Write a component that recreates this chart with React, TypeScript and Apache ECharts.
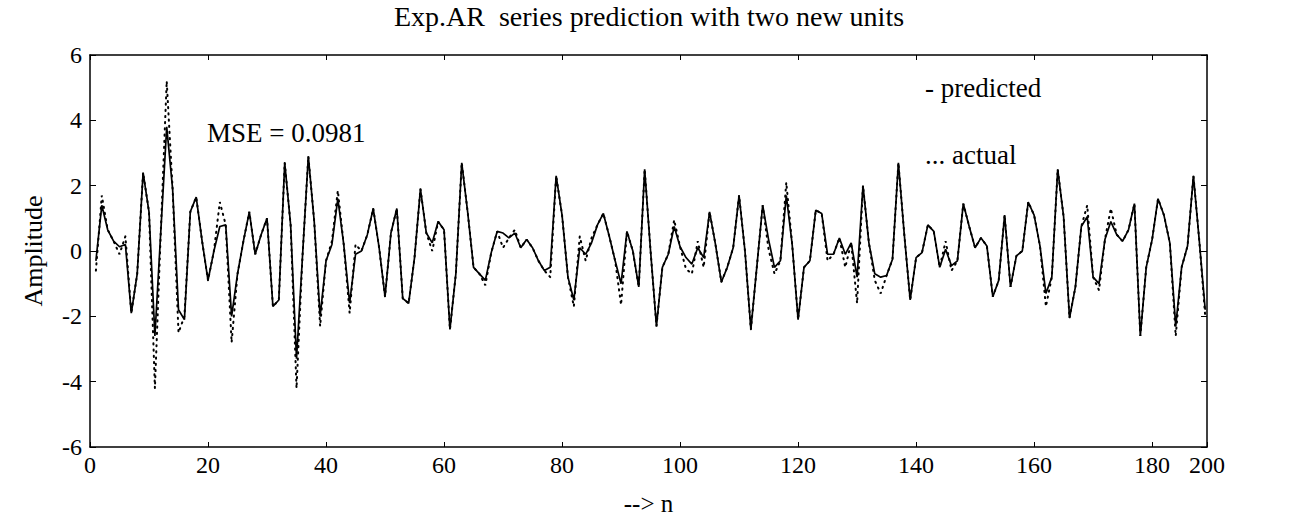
import React, { useEffect, useRef } from "react";
import * as echarts from "echarts";

const titleText = "Exp.AR  series prediction with two new units";
const yAxisName = "Amplitude";
const xAxisName = "--> n";
const mseText = "MSE = 0.0981";
const legendPredicted = "- predicted";
const legendActual = "... actual";

const xTickLabels = ["0", "20", "40", "60", "80", "100", "120", "140", "160", "180", "200"];
const xTickValues = [0, 20, 40, 60, 80, 100, 120, 140, 160, 180, 189.3];
const X_MAX = 189.3;
const yTicks = [-6, -4, -2, 0, 2, 4, 6];

const predicted = [
  -0.3, 1.4, 0.65, 0.3, 0.13, 0.2, -1.9, -0.7, 2.4, 1.2,
  -2.6, 0.6, 3.8, 1.9, -1.8, -2.1, 1.2, 1.65, 0.3, -0.9,
  0.0, 0.75, 0.8, -2.0, -0.7, 0.3, 1.2, -0.1, 0.5, 1.0,
  -1.7, -1.5, 2.7, 0.8, -3.3, -0.2, 2.9, 0.9, -2.0, -0.3,
  0.2, 1.6, 0.2, -1.6, -0.1, 0.0, 0.5, 1.3, 0.1, -1.4,
  0.55, 1.3, -1.45, -1.6, -0.2, 1.9, 0.55, 0.25, 0.9, 0.65,
  -2.4, -0.7, 2.7, 1.2, -0.5, -0.7, -0.9, -0.05, 0.6, 0.55,
  0.4, 0.55, 0.1, 0.35, 0.1, -0.3, -0.6, -0.5, 2.3, 1.1,
  -0.8, -1.5, 0.1, -0.1, 0.25, 0.8, 1.15, 0.45, -0.3, -1.0,
  0.6, 0.0, -1.1, 2.5, 0.0, -2.3, -0.5, -0.1, 0.75, 0.13,
  -0.2, -0.4, 0.1, -0.2, 1.2, 0.2, -0.95, -0.5, 0.1, 1.7,
  0.0, -2.4, -0.5, 1.4, 0.35, -0.5, -0.3, 1.7, 0.2, -2.1,
  -0.5, -0.3, 1.25, 1.15, -0.1, -0.1, 0.4, -0.1, 0.25, -0.8,
  2.0, 0.25, -0.7, -0.8, -0.75, -0.25, 2.7, 0.5, -1.5, -0.2,
  -0.05, 0.8, 0.6, -0.5, 0.05, -0.45, -0.3, 1.45, 0.75, 0.1,
  0.4, 0.15, -1.4, -0.9, 1.1, -1.1, -0.15, 0.0, 1.5, 1.1,
  0.15, -1.3, -0.8, 2.5, 1.05, -2.05, -1.1, 0.75, 1.05, -0.8,
  -1.0, 0.35, 0.9, 0.5, 0.3, 0.65, 1.45, -2.6, -0.5, 0.35,
  1.6, 1.1, 0.25, -2.3, -0.5, 0.15, 2.3, 0.3, -1.8,
];

const actual = [
  -0.6, 1.7, 0.65, 0.3, -0.1, 0.45, -1.9, -0.7, 2.4, 1.2,
  -4.2, 0.6, 5.2, 1.9, -2.5, -2.0, 1.2, 1.65, 0.3, -0.9,
  0.0, 1.5, 0.8, -2.8, -0.7, 0.3, 1.2, -0.1, 0.5, 1.0,
  -1.7, -1.5, 2.7, 0.8, -4.2, -0.2, 2.9, 0.9, -2.3, -0.3,
  0.3, 1.85, 0.2, -1.9, 0.2, 0.0, 0.5, 1.3, 0.1, -1.4,
  0.55, 1.3, -1.45, -1.6, -0.2, 1.9, 0.55, 0.0, 0.9, 0.65,
  -2.4, -0.7, 2.7, 1.2, -0.5, -0.7, -1.05, -0.05, 0.6, 0.1,
  0.4, 0.65, 0.1, 0.35, 0.1, -0.3, -0.6, -0.8, 2.3, 1.1,
  -0.8, -1.7, 0.45, -0.3, 0.4, 0.8, 1.15, 0.45, -0.3, -1.65,
  0.6, 0.0, -1.1, 2.5, 0.0, -2.3, -0.5, -0.1, 0.95, 0.13,
  -0.55, -0.7, 0.3, -0.5, 1.2, 0.2, -0.95, -0.5, 0.1, 1.7,
  0.0, -2.4, -0.5, 1.4, 0.05, -0.7, -0.3, 2.1, 0.2, -2.1,
  -0.5, -0.3, 1.25, 1.15, -0.3, -0.1, 0.4, -0.5, 0.25, -1.6,
  2.0, 0.25, -0.9, -1.3, -0.75, -0.25, 2.7, 0.5, -1.5, -0.2,
  -0.05, 0.8, 0.6, -0.5, 0.3, -0.6, -0.3, 1.45, 0.75, 0.1,
  0.4, 0.15, -1.4, -0.9, 1.1, -1.1, -0.15, 0.0, 1.5, 1.1,
  0.15, -1.7, -0.8, 2.5, 1.05, -2.05, -1.1, 0.75, 1.4, -0.8,
  -1.2, 0.35, 1.3, 0.5, 0.3, 0.65, 1.45, -2.6, -0.5, 0.35,
  1.6, 1.1, 0.25, -2.6, -0.5, 0.15, 2.3, 0.3, -2.0,
];

const FONT = "'Liberation Serif', 'Times New Roman', serif";

export default function App() {
  const ref = useRef<HTMLDivElement>(null);

  useEffect(() => {
    if (!ref.current) return;
    const chart = echarts.init(ref.current, null, { renderer: "svg" });
    const predData = predicted.map((v, i) => [i + 1, v]);
    const actData = actual.map((v, i) => [i + 1, v]);
    const labelFor = (val: number) => {
      const idx = xTickValues.findIndex((t) => Math.abs(t - val) < 1e-6);
      return idx >= 0 ? xTickLabels[idx] : "";
    };
    const axisLine = { show: true, onZero: false, lineStyle: { color: "#000", width: 1.5 } };
    chart.setOption({
      animation: false,
      backgroundColor: "#fff",
      title: {
        text: titleText,
        left: "center",
        top: 2,
        padding: 0,
        textStyle: { fontFamily: FONT, fontSize: 28, fontWeight: "normal", color: "#000" },
      },
      grid: { left: 90, right: 91, top: 55, bottom: 74 },
      xAxis: [
        {
          type: "value",
          min: 0,
          max: X_MAX,
          name: xAxisName,
          nameLocation: "middle",
          nameGap: 44,
          nameTextStyle: { fontFamily: FONT, fontSize: 25, color: "#000" },
          axisLine,
          axisTick: { show: true, inside: true, length: 5, customValues: xTickValues, lineStyle: { color: "#000" } },
          axisLabel: {
            customValues: xTickValues,
            formatter: (v: number) => labelFor(v),
            fontFamily: FONT,
            fontSize: 24,
            color: "#000",
            margin: 6,
          },
          splitLine: { show: false },
        },
        {
          type: "value",
          position: "top",
          min: 0,
          max: X_MAX,
          axisLine,
          axisTick: { show: true, inside: true, length: 5, customValues: xTickValues, lineStyle: { color: "#000" } },
          axisLabel: { show: false },
          splitLine: { show: false },
        },
      ],
      yAxis: [
        {
          type: "value",
          min: -6,
          max: 6,
          interval: 2,
          name: yAxisName,
          nameLocation: "middle",
          nameGap: 44,
          nameTextStyle: { fontFamily: FONT, fontSize: 26, color: "#000" },
          axisLine,
          axisTick: { show: true, inside: true, length: 6, lineStyle: { color: "#000" } },
          axisLabel: {
            fontFamily: FONT,
            fontSize: 24,
            color: "#000",
            margin: 8,
            formatter: (v: number) => (yTicks.includes(v) ? String(v) : ""),
          },
          splitLine: { show: false },
        },
        {
          type: "value",
          position: "right",
          min: -6,
          max: 6,
          interval: 2,
          axisLine,
          axisTick: { show: true, inside: true, length: 6, lineStyle: { color: "#000" } },
          axisLabel: { show: false },
          splitLine: { show: false },
        },
      ],
      series: [
        {
          name: "actual",
          type: "line",
          data: actData,
          showSymbol: false,
          lineStyle: { color: "#000", width: 2, type: [1.2, 5], cap: "round" },
          silent: true,
          z: 2,
        },
        {
          name: "predicted",
          type: "line",
          data: predData,
          showSymbol: false,
          lineStyle: { color: "#000", width: 1.7 },
          silent: true,
          z: 3,
        },
      ],
      graphic: [
        {
          type: "text",
          left: 207,
          top: 119,
          style: { text: mseText, font: `27px ${FONT}`, fill: "#000" },
        },
        {
          type: "text",
          left: 925,
          top: 74,
          style: { text: legendPredicted, font: `27px ${FONT}`, fill: "#000" },
        },
        {
          type: "text",
          left: 925,
          top: 141,
          style: { text: legendActual, font: `27px ${FONT}`, fill: "#000" },
        },
      ],
    });
    return () => chart.dispose();
  }, []);

  return (
    <div
      ref={ref}
      style={{ position: "absolute", left: 0, top: 0, width: 1298, height: 521 }}
    />
  );
}
